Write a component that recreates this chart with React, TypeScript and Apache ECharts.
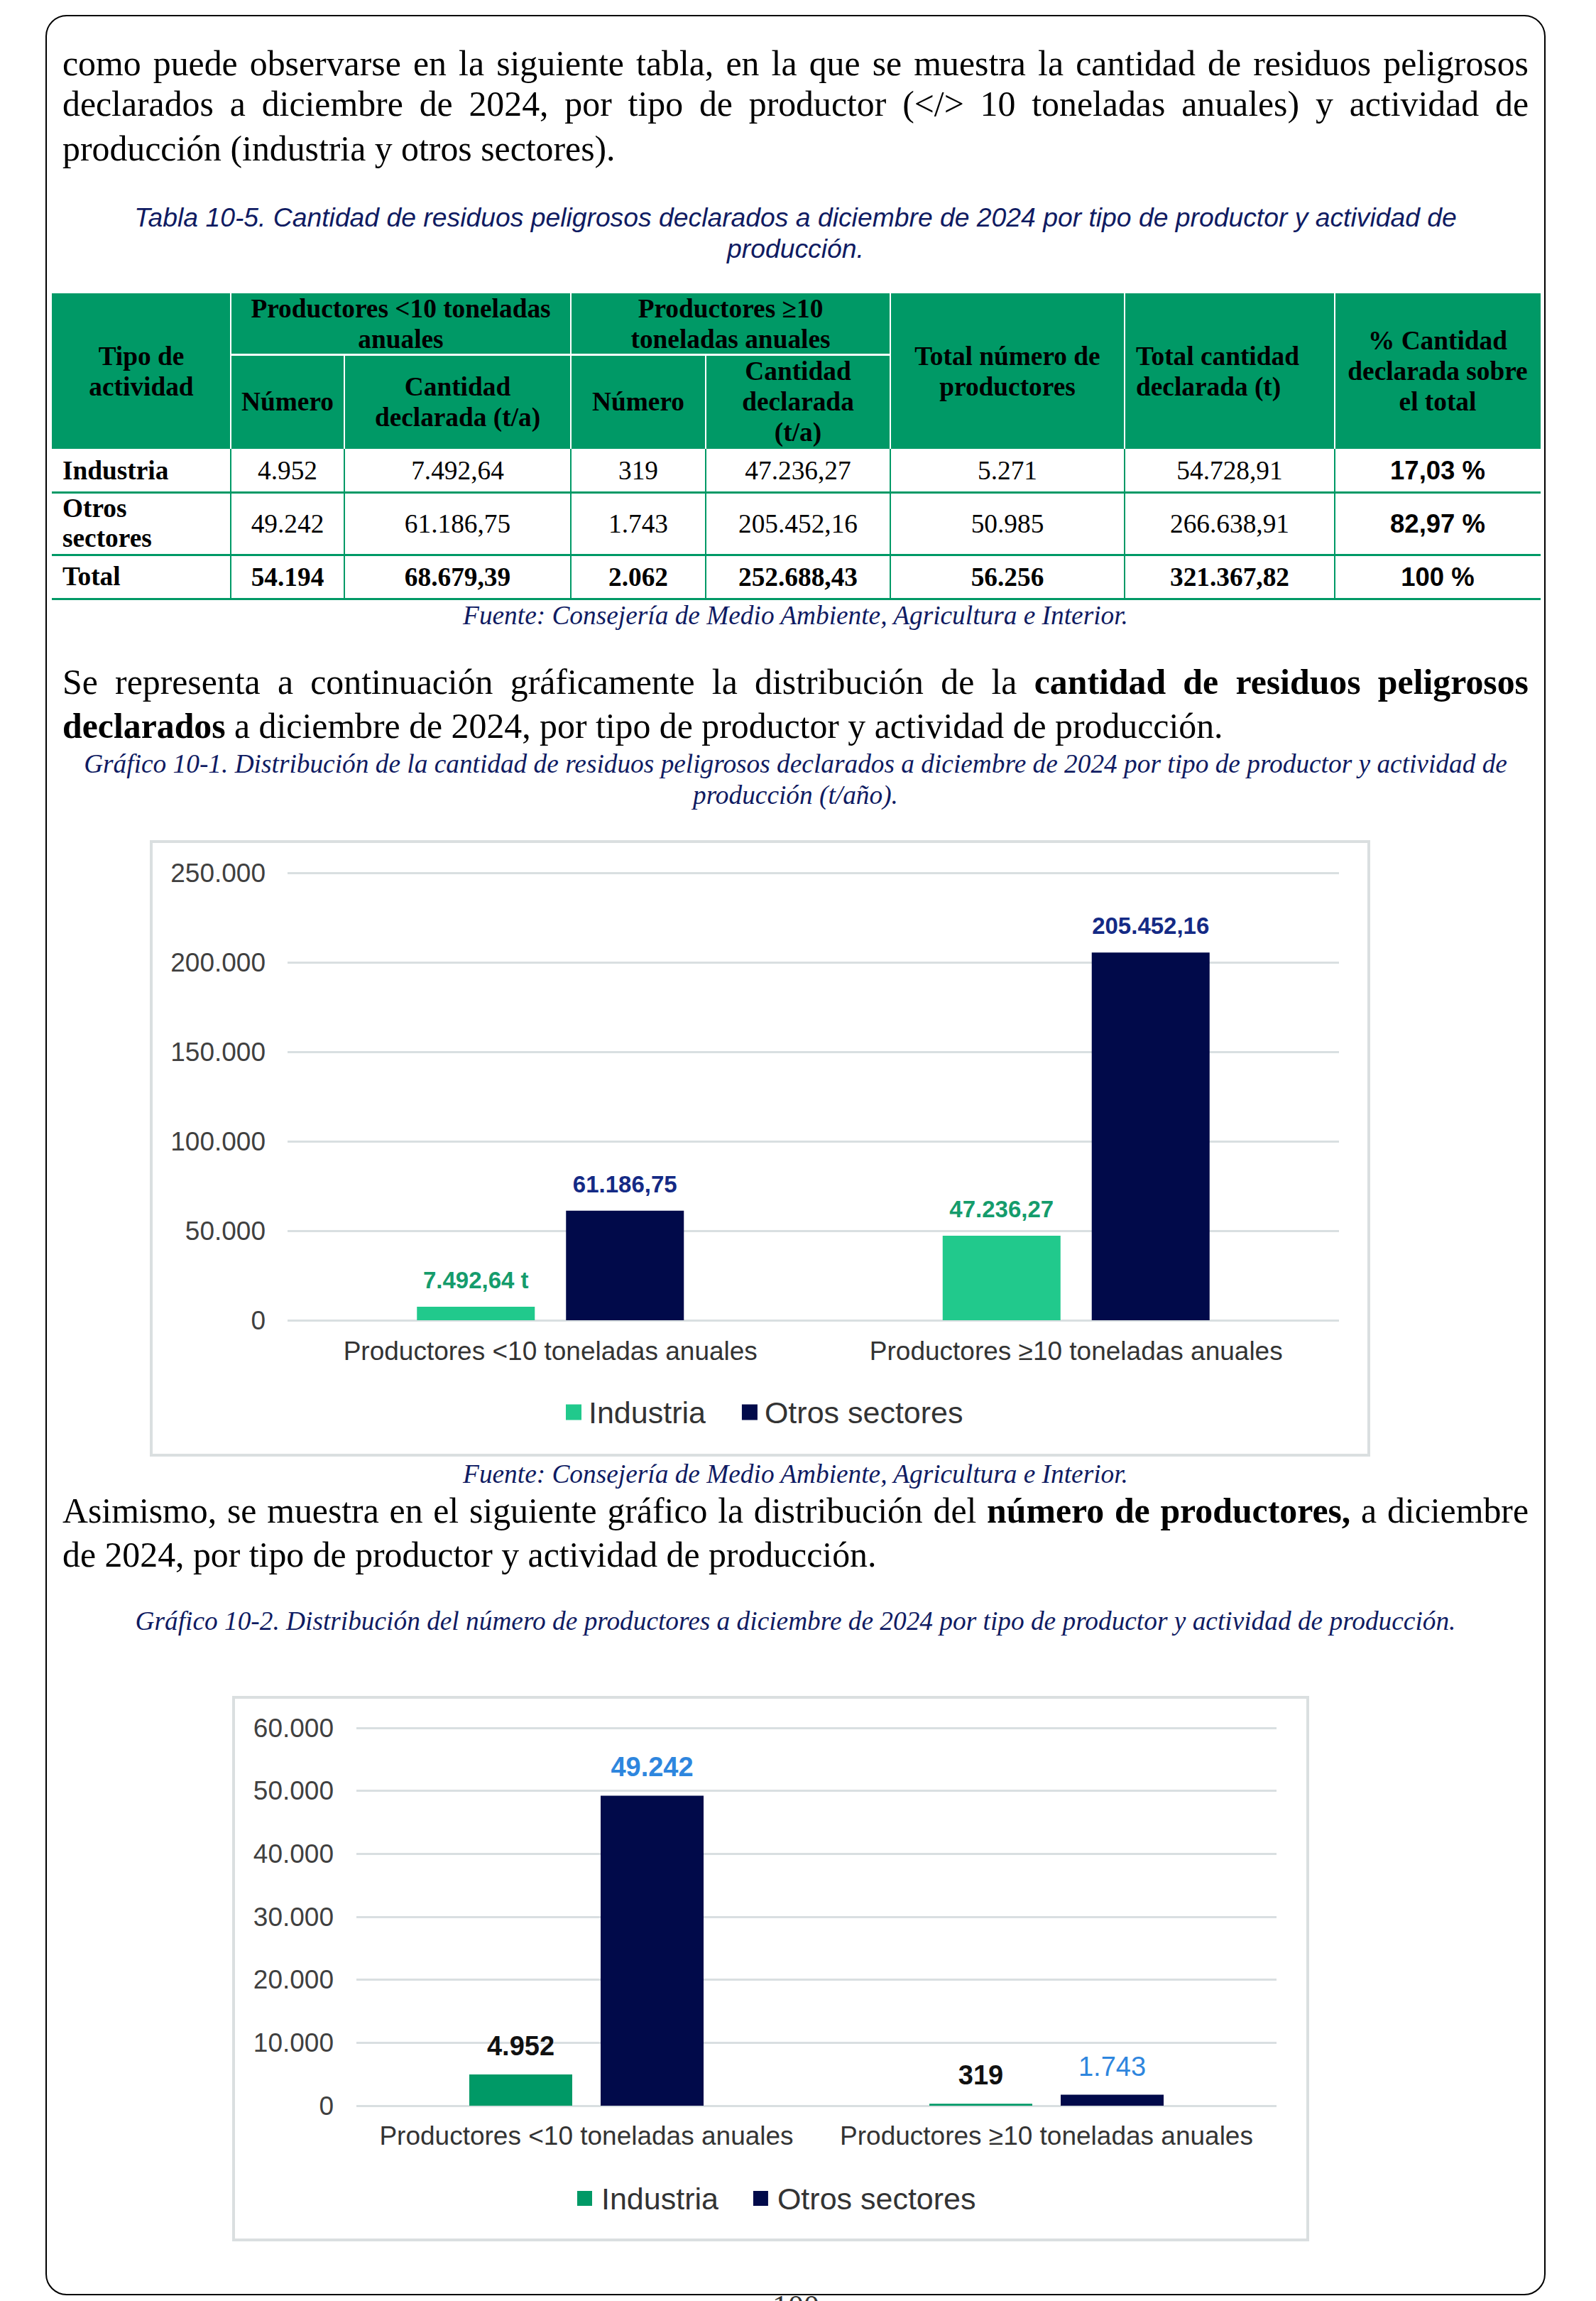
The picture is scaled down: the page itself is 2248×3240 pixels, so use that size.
import React, { useEffect, useRef } from "react";
import * as echarts from "echarts";

// ---------------- Data ----------------
const categories = ["Productores <10 toneladas anuales", "Productores ≥10 toneladas anuales"];
const seriesNames = ["Industria", "Otros sectores"];

const cantidadIndustria = [7492.64, 47236.27];
const cantidadOtros = [61186.75, 205452.16];
const cantidadIndustriaSufijo = [" t", ""];
const cantidadAxis = { min: 0, max: 250000, interval: 50000 };

const numeroIndustria = [4952, 319];
const numeroOtros = [49242, 1743];
const numeroAxis = { min: 0, max: 60000, interval: 10000 };

const tablaTipo = [["Industria"], ["Otros", "sectores"], ["Total"]];
const tablaNumMenor = ["4.952", "49.242", "54.194"];
const tablaCantMenor = ["7.492,64", "61.186,75", "68.679,39"];
const tablaNumMayor = ["319", "1.743", "2.062"];
const tablaCantMayor = ["47.236,27", "205.452,16", "252.688,43"];
const tablaTotalNum = ["5.271", "50.985", "56.256"];
const tablaTotalCant = ["54.728,91", "266.638,91", "321.367,82"];
const tablaPct = ["17,03 %", "82,97 %", "100 %"];

// ---------------- Styles ----------------
const SERIF = '"Liberation Serif", "Times New Roman", serif';
const SANS = '"Liberation Sans", Arial, sans-serif';
const NAVY = "#0f1b62";
const GREEN = "#009966";
const BODY = 49.8;
const SMALL = 37.35;

function fmtNum(v: number, dec: number): string {
  const s = Math.abs(v).toFixed(dec);
  const parts = s.split(".");
  const g = parts[0].replace(/\B(?=(\d{3})+(?!\d))/g, ".");
  return (v < 0 ? "-" : "") + g + (parts[1] ? "," + parts[1] : "");
}

function Line(props: any) {
  const {
    top, left = 88, width = 2065, align = "left", size = BODY, lh = 62,
    family = SERIF, italic = false, color = "#000", children,
  } = props;
  return (
    <div
      style={{
        position: "absolute", top, left, width, height: lh,
        lineHeight: lh + "px", fontSize: size, fontFamily: family,
        fontStyle: italic ? "italic" : "normal", color,
        textAlign: align as any,
        textAlignLast: (align === "justify" ? "justify" : align) as any,
        whiteSpace: align === "justify" ? "normal" : "nowrap",
        overflow: "visible",
      }}
    >
      {children}
    </div>
  );
}

function Cell(props: any) {
  const {
    x0, x1, y0, y1, align = "center", padLeft = 0, family = SERIF,
    bold = false, size = SMALL, lh = 43, children,
  } = props;
  return (
    <div
      style={{
        position: "absolute", left: x0, top: y0, width: x1 - x0, height: y1 - y0,
        display: "flex", alignItems: "center",
        justifyContent: align === "center" ? "center" : "flex-start",
        paddingLeft: padLeft, boxSizing: "border-box", textAlign: align,
        fontFamily: family, fontWeight: bold ? 700 : 400, fontSize: size,
        lineHeight: lh + "px", color: "#000",
      }}
    >
      <div>{children}</div>
    </div>
  );
}

function HRule({ x0, x1, y, th, color }: any) {
  return <div style={{ position: "absolute", left: x0, top: y - th / 2, width: x1 - x0, height: th, background: color }} />;
}
function VRule({ x, y0, y1, th, color }: any) {
  return <div style={{ position: "absolute", left: x - th / 2, top: y0, width: th, height: y1 - y0, background: color }} />;
}

function Chart({ option, width, height }: any) {
  const ref = useRef<HTMLDivElement>(null);
  useEffect(() => {
    const chart = echarts.init(ref.current as HTMLDivElement, undefined, { renderer: "svg" });
    chart.setOption(option);
    return () => chart.dispose();
  }, []);
  return <div ref={ref} style={{ width, height }} />;
}

// ---------------- Chart options ----------------
const option1 = {
  animation: false,
  textStyle: { fontFamily: SANS },
  grid: { left: 190, right: 40, top: 42, bottom: 188 },
  legend: {
    data: seriesNames, left: 582, top: 780, padding: 0, icon: "rect",
    itemWidth: 22, itemHeight: 22, itemGap: 51,
    textStyle: { fontSize: 43, color: "#333", lineHeight: 42, padding: [0, 0, 0, 5], fontFamily: SANS },
  },
  xAxis: {
    type: "category", data: categories,
    axisLine: { show: false }, axisTick: { show: false },
    axisLabel: { interval: 0, fontSize: 37, color: "#333", margin: 25, lineHeight: 37, fontFamily: SANS },
  },
  yAxis: {
    type: "value", min: cantidadAxis.min, max: cantidadAxis.max, interval: cantidadAxis.interval,
    axisLine: { show: false }, axisTick: { show: false },
    axisLabel: { fontSize: 37, color: "#404040", margin: 31, fontFamily: SANS, formatter: (v: number) => fmtNum(v, 0) },
    splitLine: { lineStyle: { color: "#d9dfe1", width: 3 } },
  },
  series: [
    {
      name: seriesNames[0], type: "bar", data: cantidadIndustria, barWidth: 166, barGap: "26.5%",
      itemStyle: { color: "#21c98c" },
      label: {
        show: true, position: "top", distance: 21, fontSize: 33, lineHeight: 33, fontWeight: "bold",
        color: "#159c6c", fontFamily: SANS,
        formatter: (p: any) => fmtNum(p.value, 2) + cantidadIndustriaSufijo[p.dataIndex],
      },
    },
    {
      name: seriesNames[1], type: "bar", data: cantidadOtros, barWidth: 166, barGap: "26.5%",
      itemStyle: { color: "#010a4a" },
      label: {
        show: true, position: "top", distance: 21, fontSize: 33, lineHeight: 33, fontWeight: "bold",
        color: "#142a85", fontFamily: SANS,
        formatter: (p: any) => fmtNum(p.value, 2),
      },
    },
  ],
};

const option2 = {
  animation: false,
  textStyle: { fontFamily: SANS },
  grid: { left: 171, right: 42, top: 41, bottom: 187 },
  legend: {
    data: seriesNames, left: 482, top: 682, padding: 0, icon: "rect",
    itemWidth: 21, itemHeight: 21, itemGap: 49,
    textStyle: { fontSize: 43, color: "#333", lineHeight: 42, padding: [0, 0, 0, 8], fontFamily: SANS },
  },
  xAxis: {
    type: "category", data: categories,
    axisLine: { show: false }, axisTick: { show: false },
    axisLabel: { interval: 0, fontSize: 37, color: "#333", margin: 24, lineHeight: 37, fontFamily: SANS },
  },
  yAxis: {
    type: "value", min: numeroAxis.min, max: numeroAxis.max, interval: numeroAxis.interval,
    axisLine: { show: false }, axisTick: { show: false },
    axisLabel: { fontSize: 37, color: "#404040", margin: 32, fontFamily: SANS, formatter: (v: number) => fmtNum(v, 0) },
    splitLine: { lineStyle: { color: "#d9dfe1", width: 3 } },
  },
  series: [
    {
      name: seriesNames[0], type: "bar", data: numeroIndustria, barWidth: 145, barGap: "27.6%",
      itemStyle: { color: "#009966" },
      label: {
        show: true, position: "top", distance: 21, fontSize: 38, lineHeight: 38, fontWeight: "bold",
        color: "#111", fontFamily: SANS, formatter: (p: any) => fmtNum(p.value, 0),
      },
    },
    {
      name: seriesNames[1], type: "bar",
      data: numeroOtros.map((v, i) => ({ value: v, label: { fontWeight: i === 0 ? "bold" : "normal" } })),
      barWidth: 145, barGap: "27.6%",
      itemStyle: { color: "#010a4a" },
      label: {
        show: true, position: "top", distance: 21, fontSize: 38, lineHeight: 38,
        color: "#2e86de", fontFamily: SANS, formatter: (p: any) => fmtNum(p.value, 0),
      },
    },
  ],
};

// ---------------- Table geometry ----------------
const X = [73, 325, 485, 804, 994, 1254, 1584, 1880, 2170];
const HEAD_TOP = 413;
const HEAD_MID = 499;
const HEAD_BOT = 632;
const ROWS = [632, 693, 781, 843];

function Table() {
  const cells: any[] = [];
  for (let r = 0; r < 3; r++) {
    const y0 = ROWS[r];
    const y1 = ROWS[r + 1];
    const bold = r === 2;
    cells.push(
      <Cell key={"t" + r} x0={X[0]} x1={X[1]} y0={y0} y1={y1} align="left" padLeft={15} bold lh={42}>
        {tablaTipo[r].map((s, i) => (<React.Fragment key={i}>{i > 0 ? <br /> : null}{s}</React.Fragment>))}
      </Cell>
    );
    const vals = [tablaNumMenor[r], tablaCantMenor[r], tablaNumMayor[r], tablaCantMayor[r], tablaTotalNum[r], tablaTotalCant[r]];
    vals.forEach((v, c) => {
      cells.push(<Cell key={"c" + r + "_" + c} x0={X[c + 1]} x1={X[c + 2]} y0={y0} y1={y1} bold={bold}>{v}</Cell>);
    });
    cells.push(
      <Cell key={"p" + r} x0={X[7]} x1={X[8]} y0={y0} y1={y1} bold family={SANS} size={36.5}>{tablaPct[r]}</Cell>
    );
  }
  return (
    <>
      <div style={{ position: "absolute", left: X[0], top: HEAD_TOP, width: X[8] - X[0], height: HEAD_BOT - HEAD_TOP, background: GREEN }} />
      {[X[1], X[3], X[5], X[6], X[7]].map((x) => (<VRule key={"wv" + x} x={x} y0={HEAD_TOP} y1={HEAD_BOT} th={2.5} color="#fff" />))}
      {[X[2], X[4]].map((x) => (<VRule key={"wv2" + x} x={x} y0={HEAD_MID} y1={HEAD_BOT} th={2.5} color="#fff" />))}
      <HRule x0={X[1]} x1={X[5]} y={HEAD_MID} th={3} color="#fff" />

      <Cell x0={X[0]} x1={X[1]} y0={HEAD_TOP} y1={HEAD_BOT} bold>Tipo de<br />actividad</Cell>
      <Cell x0={X[1]} x1={X[3]} y0={HEAD_TOP} y1={HEAD_MID} bold>Productores &lt;10 toneladas<br />anuales</Cell>
      <Cell x0={X[3]} x1={X[5]} y0={HEAD_TOP} y1={HEAD_MID} bold>Productores ≥10<br />toneladas anuales</Cell>
      <Cell x0={X[1]} x1={X[2]} y0={HEAD_MID} y1={HEAD_BOT} bold>Número</Cell>
      <Cell x0={X[2]} x1={X[3]} y0={HEAD_MID} y1={HEAD_BOT} bold>Cantidad<br />declarada (t/a)</Cell>
      <Cell x0={X[3]} x1={X[4]} y0={HEAD_MID} y1={HEAD_BOT} bold>Número</Cell>
      <Cell x0={X[4]} x1={X[5]} y0={HEAD_MID} y1={HEAD_BOT} bold>Cantidad<br />declarada<br />(t/a)</Cell>
      <Cell x0={X[5]} x1={X[6]} y0={HEAD_TOP} y1={HEAD_BOT} bold>Total número de<br />productores</Cell>
      <Cell x0={X[6]} x1={X[7]} y0={HEAD_TOP} y1={HEAD_BOT} bold align="left" padLeft={16}>Total cantidad<br />declarada (t)</Cell>
      <Cell x0={X[7]} x1={X[8]} y0={HEAD_TOP} y1={HEAD_BOT} bold>% Cantidad<br />declarada sobre<br />el total</Cell>

      {cells}

      {[ROWS[1], ROWS[2], ROWS[3]].map((y) => (<HRule key={"gh" + y} x0={X[0]} x1={X[8]} y={y} th={3} color={GREEN} />))}
      {X.slice(1, 8).map((x) => (<VRule key={"gv" + x} x={x} y0={HEAD_BOT} y1={ROWS[3]} th={2.5} color={GREEN} />))}
    </>
  );
}

export default function App() {
  return (
    <div style={{ position: "absolute", left: 0, top: 0, width: 2248, height: 3240, overflow: "hidden", background: "#fff" }}>
      <div style={{ position: "absolute", left: 1088, top: 3226, fontFamily: SERIF, fontSize: 44, lineHeight: "44px", color: "#333" }}>100</div>
      <div style={{ position: "absolute", left: 64, top: 21, width: 2113, height: 3211, border: "2.5px solid #000", borderRadius: 30, boxSizing: "border-box", background: "#fff" }} />

      {/* Párrafo 1 */}
      <Line top={59} align="justify">como puede observarse en la siguiente tabla, en la que se muestra la cantidad de residuos peligrosos</Line>
      <Line top={116} align="justify">declarados a diciembre de 2024, por tipo de productor (&lt;/&gt; 10 toneladas anuales) y actividad de</Line>
      <Line top={179}>producción (industria y otros sectores).</Line>

      {/* Título tabla */}
      <Line top={284} align="center" size={37.3} lh={44} family={SANS} italic color={NAVY}>
        Tabla 10-5. Cantidad de residuos peligrosos declarados a diciembre de 2024 por tipo de productor y actividad de
      </Line>
      <Line top={327.5} align="center" size={37.3} lh={44} family={SANS} italic color={NAVY}>producción.</Line>

      <Table />

      <Line top={844.5} align="center" size={SMALL} lh={44} italic color={NAVY}>Fuente: Consejería de Medio Ambiente, Agricultura e Interior.</Line>

      {/* Párrafo 2 */}
      <Line top={930} align="justify">
        Se representa a continuación gráficamente la distribución de la <b>cantidad de residuos peligrosos</b>
      </Line>
      <Line top={992}><b>declarados</b> a diciembre de 2024, por tipo de productor y actividad de producción.</Line>

      <Line top={1053.5} align="center" size={SMALL} lh={44} italic color={NAVY}>
        Gráfico 10-1. Distribución de la cantidad de residuos peligrosos declarados a diciembre de 2024 por tipo de productor y actividad de
      </Line>
      <Line top={1097.5} align="center" size={SMALL} lh={44} italic color={NAVY}>producción (t/año).</Line>

      <div style={{ position: "absolute", left: 211, top: 1183, width: 1719, height: 868, border: "4px solid #dadfe0", boxSizing: "border-box", background: "#fff" }}>
        <Chart option={option1} width={1711} height={860} />
      </div>

      <Line top={2054} align="center" size={SMALL} lh={44} italic color={NAVY}>Fuente: Consejería de Medio Ambiente, Agricultura e Interior.</Line>

      {/* Párrafo 3 */}
      <Line top={2097} align="justify">
        Asimismo, se muestra en el siguiente gráfico la distribución del <b>número de productores,</b> a diciembre
      </Line>
      <Line top={2159}>de 2024, por tipo de productor y actividad de producción.</Line>

      <Line top={2260.5} align="center" size={SMALL} lh={44} italic color={NAVY}>
        Gráfico 10-2. Distribución del número de productores a diciembre de 2024 por tipo de productor y actividad de producción.
      </Line>

      <div style={{ position: "absolute", left: 327, top: 2388, width: 1517, height: 768, border: "4px solid #dadfe0", boxSizing: "border-box", background: "#fff" }}>
        <Chart option={option2} width={1509} height={760} />
      </div>
    </div>
  );
}
